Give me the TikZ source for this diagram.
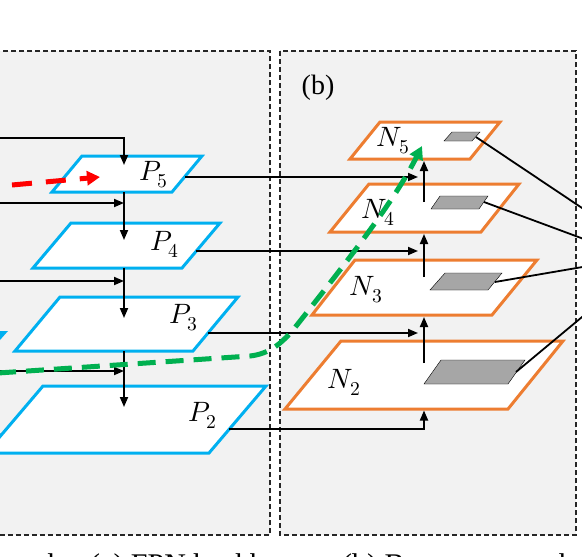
\documentclass[tikz,border=0pt]{standalone}
\usepackage{fontspec}
\usepackage{unicode-math}
\setmainfont{Liberation Serif}
\usetikzlibrary{arrows.meta}

\definecolor{fpnblue}{HTML}{00B0F0}
\definecolor{panorange}{HTML}{ED7D31}
\definecolor{panelgray}{HTML}{F2F2F2}
\definecolor{featgray}{HTML}{A6A6A6}
\definecolor{pathgreen}{HTML}{00B050}
\definecolor{pathred}{HTML}{FF0000}
\definecolor{backblue}{HTML}{8FAADC}

\begin{document}
\begin{tikzpicture}[x=1pt, y=-1pt,
	panel/.style={fill=panelgray, draw=black!85, line width=1.3pt, dash pattern=on 5pt off 3pt},
	pplane/.style={fill=white, draw=fpnblue, line width=3pt},
	nplane/.style={fill=white, draw=panorange, line width=3pt},
	feat/.style={fill=featgray},
	lbl/.style={font=\fontsize{28}{30}\selectfont, inner sep=0pt},
	captext/.style={font=\fontsize{30}{32}\selectfont, inner sep=0pt, anchor=base west},
	arr/.style={line width=1.8pt, -{Triangle[length=10pt, width=8pt]}},
	link/.style={line width=1.8pt},
	shortcut/.style={line width=5pt, -{Triangle[length=13pt, width=14pt]}},
]
\useasboundingbox (0,0) rectangle (582,557);
\clip (0,0) rectangle (582,557);

%% Panels
\draw[panel] (-20,51) rectangle (270,535);
\draw[panel] (280,51) rectangle (576,535);
\node[font=\fontsize{28}{30}\selectfont] (blabel) at (318,88) {(b)};

%% Reste am linken Rand
\fill[fpnblue] (0,331) -- (8,331) -- (0,340) -- cycle;
\fill[backblue] (0,433) -- (7,433) -- (0,441) -- cycle;
%%%%%%%%%%%%%%%%

%% FPN: P2 ... P5
\draw[pplane] (82,156) -- (202,156) -- (172,192) -- (52,192) -- cycle;
\draw[pplane] (71,223) -- (220,223) -- (182,268) -- (33,268) -- cycle;
\draw[pplane] (60,297) -- (238,297) -- (193,351) -- (15,351) -- cycle;
\draw[pplane] (43,386) -- (266,386) -- (209,453) -- (-14,453) -- cycle;
\node[lbl] (p5) at (154,175) {$P_5$};
\node[lbl] (p4) at (165,244) {$P_4$};
\node[lbl] (p3) at (184,318) {$P_3$};
\node[lbl] (p2) at (203,415) {$P_2$};

%% top-down path
\coordinate (c5) at (-10,138);
\coordinate (c4) at (-10,203);
\coordinate (c3) at (-10,281);
\coordinate (c2) at (-10,371);
\coordinate (p5top) at (124,165);
\coordinate (p5bot) at (124,192);
\coordinate (p4top) at (124,240);
\coordinate (p4bot) at (124,268);
\coordinate (p3top) at (124,318);
\coordinate (p3bot) at (124,351);
\coordinate (p2top) at (124,407);
\draw[arr] (c5) -| (p5top);
\draw[arr] (p5bot) -- (p4top);
\draw[arr] (p4bot) -- (p3top);
\draw[arr] (p3bot) -- (p2top);
\draw[arr] (c4) -- (c4 -| p5bot);
\draw[arr] (c3) -- (c3 -| p5bot);
\draw[arr] (c2) -- (c2 -| p5bot);
%%%%%%%%%%%%%%%%

%% Bottom-up: N2 ... N5
\draw[nplane] (380,122) -- (500,122) -- (470,159) -- (350,159) -- cycle;
\draw[nplane] (369,184) -- (519,184) -- (481,232) -- (330,232) -- cycle;
\draw[nplane] (355,260) -- (537,260) -- (492,315) -- (312,315) -- cycle;
\draw[nplane] (341,341) -- (563,341) -- (508,409) -- (285,409) -- cycle;
\draw[feat] (452,132) -- (480,132) -- (472,141) -- (444,141) -- cycle;
\draw[feat] (440,196) -- (488,196) -- (479,209) -- (431,209) -- cycle;
\draw[feat] (445,273) -- (502,273) -- (488,290) -- (430,290) -- cycle;
\draw[feat] (441,360) -- (525,360) -- (508,384) -- (424,384) -- cycle;
\node[lbl] (n5) at (393,141) {$N_5$};
\node[lbl] (n4) at (378,212) {$N_4$};
\node[lbl] (n3) at (366,290) {$N_3$};
\node[lbl] (n2) at (344,382) {$N_2$};

\coordinate (n5bot) at (424,161);
\coordinate (n4mid) at (424,202);
\coordinate (n4bot) at (424,234);
\coordinate (n3mid) at (424,277);
\coordinate (n3bot) at (424,317);
\coordinate (n2mid) at (424,363);
\coordinate (n2bot) at (424,410.5);
\draw[arr] (n4mid) -- (n5bot);
\draw[arr] (n3mid) -- (n4bot);
\draw[arr] (n2mid) -- (n3bot);

%% laterale Verbindungen
\coordinate (p5r) at (185,177);
\coordinate (p4r) at (196,251);
\coordinate (p3r) at (208,333);
\coordinate (p2r) at (229,429);
\draw[arr] (p5r) -- (418,177);
\draw[arr] (p4r) -- (418,251);
\draw[arr] (p3r) -- (418,333);
\draw[arr] (p2r) -| (n2bot);

%% zur adaptiven Pooling-Stufe
\coordinate (pool5) at (600,220);
\coordinate (pool4) at (600,245);
\coordinate (pool3) at (600,264);
\coordinate (pool2) at (600,302);
\draw[link] (476,137) -- (pool5);
\draw[link] (484,202) -- (pool4);
\draw[link] (495,282) -- (pool3);
\draw[link] (516,372) -- (pool2);
%%%%%%%%%%%%%%%%

%% Abkuerzungen
\coordinate (redstart) at (12,185);
\coordinate (redend) at (100,177);
\draw[shortcut, pathred, dash pattern=on 20pt off 14pt] (redstart) -- (redend);
\coordinate (greenstart) at (-2,373);
\coordinate (greenend) at (422,146);
\draw[shortcut, pathgreen, dash pattern=on 18pt off 10pt] (greenstart) -- (250,356)
	.. controls (268,354) and (280,345) .. (293,330)
	.. controls (350,258) and (395,200) .. (greenend);

%% Bildunterschrift (abgeschnitten)
\node[captext, anchor=base east] (capw) at (70,574) {framework.};
\node[captext] (capa) at (90,574) {(a) FPN backbone.};
\node[captext] (capb) at (342,574) {(b) Bottom-up path augmentation.};
\end{tikzpicture}
\end{document}
